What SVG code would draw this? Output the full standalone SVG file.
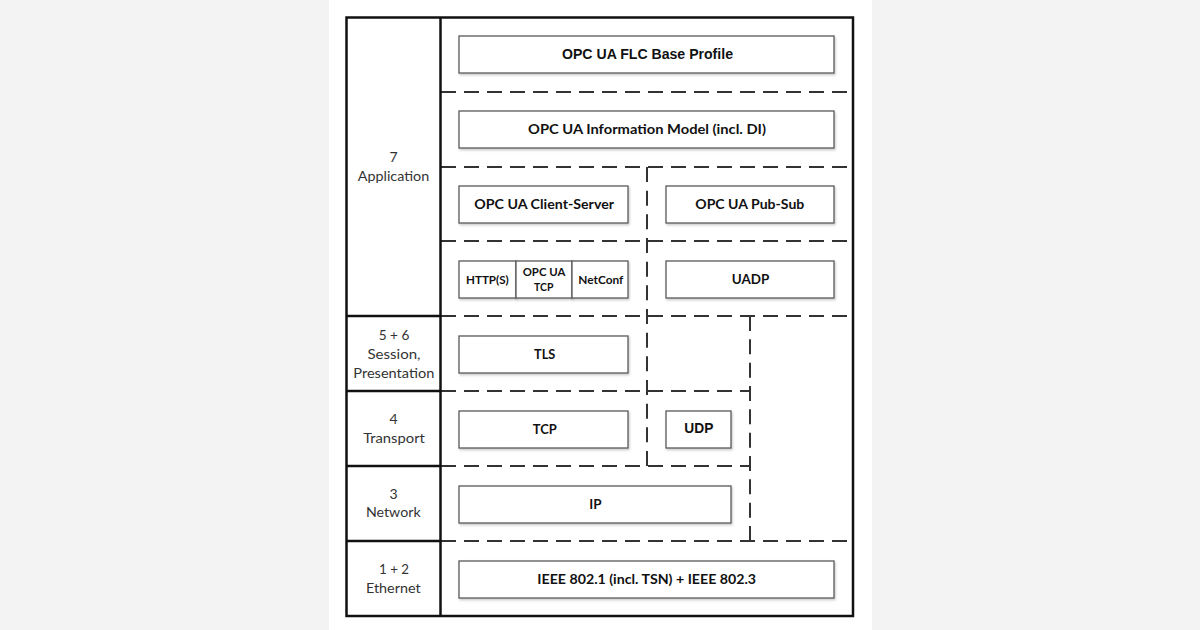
<svg xmlns="http://www.w3.org/2000/svg" width="1200" height="630" viewBox="0 0 1200 630">
<defs>
<filter id="sh" x="-5%" y="-20%" width="110%" height="150%">
<feDropShadow dx="1" dy="1.5" stdDeviation="0.8" flood-color="#000" flood-opacity="0.22"/>
</filter>
<style>
.box{fill:#fff;stroke:#5a5a5a;stroke-width:1.3;filter:url(#sh)}
.lbl{font-family:Lato,"Open Sans",sans-serif;font-weight:700;font-size:13.5px;fill:#111;text-anchor:middle}
.sm{font-size:11.7px}
.ar{font-family:"Liberation Sans",Arial,sans-serif;font-weight:700;font-size:14px;fill:#111;text-anchor:middle}
.lay{font-family:Lato,"Open Sans",sans-serif;font-size:14px;fill:#333;text-anchor:middle}
.dash{stroke:#333;stroke-width:2;fill:none;stroke-dasharray:15 8}
.solid{stroke:#111;stroke-width:2.5;fill:none}
</style>
</defs>
<rect x="0" y="0" width="1200" height="630" fill="#f3f3f3"/>
<rect x="329" y="0" width="543" height="630" fill="#fff"/>

<g id="connectors">
<line class="dash" x1="441" y1="92" x2="853" y2="92"/>
<line class="dash" x1="441" y1="167" x2="853" y2="167"/>
<line class="dash" x1="441" y1="241" x2="853" y2="241"/>
<line class="dash" x1="441" y1="316" x2="853" y2="316"/>
<line class="dash" x1="441" y1="391" x2="750" y2="391"/>
<line class="dash" x1="441" y1="466" x2="750" y2="466"/>
<line class="dash" x1="441" y1="541" x2="853" y2="541"/>
<line class="dash" x1="647" y1="466" x2="647" y2="167" style="stroke-dasharray:15 8.67"/>
<line class="dash" x1="750" y1="316" x2="750" y2="541" style="stroke-dasharray:15 8.33"/>
</g>

<g id="frame">
<rect class="solid" x="346.5" y="17.5" width="506.5" height="598.5" stroke-width="2.8"/>
<line class="solid" x1="440.5" y1="17.5" x2="440.5" y2="616"/>
<line class="solid" x1="346.5" y1="316" x2="440.5" y2="316"/>
<line class="solid" x1="346.5" y1="391" x2="440.5" y2="391"/>
<line class="solid" x1="346.5" y1="466" x2="440.5" y2="466"/>
<line class="solid" x1="346.5" y1="541" x2="440.5" y2="541"/>
</g>

<g id="layer-7">
<text class="lay" x="393.5" y="162">7</text>
<text class="lay" x="393.5" y="180.5" textLength="71.6" lengthAdjust="spacingAndGlyphs">Application</text>
</g>
<g id="layer-5-6">
<text class="lay" x="394" y="339.5" textLength="30.7" lengthAdjust="spacingAndGlyphs">5 + 6</text>
<text class="lay" x="394" y="359" textLength="53" lengthAdjust="spacingAndGlyphs">Session,</text>
<text class="lay" x="393.8" y="377.5" textLength="81" lengthAdjust="spacingAndGlyphs">Presentation</text>
</g>
<g id="layer-4">
<text class="lay" x="393.5" y="423.5">4</text>
<text class="lay" x="394" y="442.7" textLength="61.7" lengthAdjust="spacingAndGlyphs">Transport</text>
</g>
<g id="layer-3">
<text class="lay" x="393.5" y="498.5">3</text>
<text class="lay" x="393.3" y="517.3" textLength="54.7" lengthAdjust="spacingAndGlyphs">Network</text>
</g>
<g id="layer-1-2">
<text class="lay" x="394" y="574" textLength="30" lengthAdjust="spacingAndGlyphs">1 + 2</text>
<text class="lay" x="393.3" y="592.7" textLength="54.7" lengthAdjust="spacingAndGlyphs">Ethernet</text>
</g>

<g id="flc-base-profile">
<rect class="box" x="459" y="36" width="375" height="37"/>
<text class="ar" x="647.5" y="59" textLength="171" lengthAdjust="spacingAndGlyphs">OPC UA FLC Base Profile</text>
</g>
<g id="information-model">
<rect class="box" x="459" y="111" width="375" height="37"/>
<text class="lbl" x="647" y="134" textLength="238" lengthAdjust="spacingAndGlyphs">OPC UA Information Model (incl. DI)</text>
</g>
<g id="client-server">
<rect class="box" x="459" y="186" width="169" height="37"/>
<text class="lbl" x="544.2" y="208.5" textLength="139.7" lengthAdjust="spacingAndGlyphs">OPC UA Client-Server</text>
</g>
<g id="pub-sub">
<rect class="box" x="666" y="186" width="168" height="37"/>
<text class="lbl" x="749.8" y="208.5" textLength="109" lengthAdjust="spacingAndGlyphs">OPC UA Pub-Sub</text>
</g>
<g id="https">
<rect class="box" x="459" y="261" width="57" height="37"/>
<text class="lbl sm" x="487.4" y="283.5" textLength="42.7" lengthAdjust="spacingAndGlyphs">HTTP(S)</text>
</g>
<g id="opc-ua-tcp">
<rect class="box" x="516" y="261" width="56" height="37"/>
<text class="lbl sm" x="544" y="275.5" textLength="42.6" lengthAdjust="spacingAndGlyphs">OPC UA</text>
<text class="lbl sm" x="543.7" y="290.7" textLength="19.3" lengthAdjust="spacingAndGlyphs">TCP</text>
</g>
<g id="netconf">
<rect class="box" x="572" y="261" width="56" height="37"/>
<text class="lbl sm" x="600.8" y="283.5" textLength="45" lengthAdjust="spacingAndGlyphs">NetConf</text>
</g>
<g id="uadp">
<rect class="box" x="666" y="261" width="168" height="37"/>
<text class="lbl" x="750.5" y="283.5" textLength="37.6" lengthAdjust="spacingAndGlyphs">UADP</text>
</g>
<g id="tls">
<rect class="box" x="459" y="336" width="169" height="37"/>
<text class="lbl" x="544.7" y="358.5" textLength="21.3" lengthAdjust="spacingAndGlyphs">TLS</text>
</g>
<g id="tcp">
<rect class="box" x="459" y="411" width="169" height="37"/>
<text class="lbl" x="544.7" y="433.5" textLength="24" lengthAdjust="spacingAndGlyphs">TCP</text>
</g>
<g id="udp">
<rect class="box" x="666" y="411" width="65" height="37"/>
<text class="ar" x="698.8" y="433" textLength="29" lengthAdjust="spacingAndGlyphs">UDP</text>
</g>
<g id="ip">
<rect class="box" x="459" y="486" width="272" height="37"/>
<text class="lbl" x="595.5" y="508.5" textLength="12.3" lengthAdjust="spacingAndGlyphs">IP</text>
</g>
<g id="ieee">
<rect class="box" x="459" y="561" width="375" height="37"/>
<text class="lbl" x="646.7" y="583.5" textLength="218.7" lengthAdjust="spacingAndGlyphs">IEEE 802.1 (incl. TSN) + IEEE 802.3</text>
</g>
</svg>
